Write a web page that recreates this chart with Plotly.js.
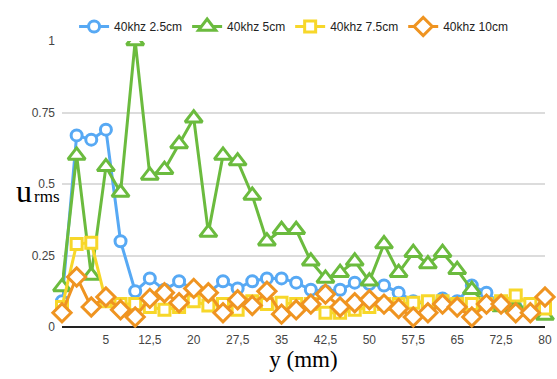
<!DOCTYPE html>
<html>
<head>
<meta charset="utf-8">
<script src="https://cdn.plot.ly/plotly-3.0.1.min.js"></script>
<style>html,body{margin:0;padding:0;background:#fff;}#chart{width:557px;height:379px;}</style>
</head>
<body>
<div id="chart"></div>
<script>
// positions along y (mm)
const yPos = [-2.5, 0, 2.5, 5, 7.5, 10, 12.5, 15, 17.5, 20, 22.5, 25, 27.5, 30, 32.5, 35, 37.5, 40, 42.5, 45, 47.5, 50, 52.5, 55, 57.5, 60, 62.5, 65, 67.5, 70, 72.5, 75, 77.5, 80];
const tickVals = [5, 12.5, 20, 27.5, 35, 42.5, 50, 57.5, 65, 72.5, 80];
const tickText = ["5", "12,5", "20", "27,5", "35", "42,5", "50", "57,5", "65", "72,5", "80"];
const yTickVals = [0, 0.25, 0.5, 0.75, 1];
const yTickText = ["0", "0.25", "0.5", "0.75", "1"];
const seriesNames = ["40khz 2.5cm", "40khz 5cm", "40khz 7.5cm", "40khz 10cm"];

const u25 = [0.09, 0.67, 0.655, 0.69, 0.30, 0.125, 0.17, 0.13, 0.16, 0.13, 0.12, 0.16, 0.135, 0.16, 0.17, 0.17, 0.155, 0.13, 0.125, 0.13, 0.155, 0.15, 0.145, 0.12, 0.09, 0.08, 0.10, 0.09, 0.145, 0.12, 0.08, 0.07, 0.07, 0.06];
const u50 = [0.14, 0.60, 0.18, 0.56, 0.47, 1.0, 0.53, 0.55, 0.64, 0.73, 0.33, 0.60, 0.58, 0.46, 0.30, 0.34, 0.34, 0.23, 0.17, 0.19, 0.23, 0.16, 0.29, 0.19, 0.26, 0.22, 0.26, 0.20, 0.13, 0.08, 0.07, 0.07, 0.06, 0.04];
const u75 = [0.07, 0.29, 0.295, 0.09, 0.08, 0.08, 0.07, 0.06, 0.07, 0.09, 0.075, 0.08, 0.06, 0.09, 0.08, 0.085, 0.08, 0.08, 0.05, 0.05, 0.06, 0.07, 0.08, 0.08, 0.085, 0.09, 0.09, 0.08, 0.08, 0.08, 0.09, 0.11, 0.08, 0.065];
const u100 = [0.05, 0.175, 0.07, 0.105, 0.06, 0.035, 0.10, 0.12, 0.085, 0.135, 0.12, 0.05, 0.095, 0.075, 0.125, 0.045, 0.06, 0.08, 0.115, 0.07, 0.085, 0.095, 0.08, 0.065, 0.035, 0.05, 0.08, 0.07, 0.035, 0.08, 0.08, 0.05, 0.05, 0.105];

const colors = ["#57a9f4", "#6bbb3e", "#f7d72a", "#ef9421"];
const symbols = ["circle", "triangle-up", "square", "diamond"];
const sizes = [11, 15, 11, 14];
const data = [u25, u50, u75, u100];

const traces = data.map((vals, k) => ({
  x: yPos, y: vals, name: seriesNames[k], type: "scatter", mode: "lines+markers",
  line: {color: colors[k], width: 3},
  marker: {symbol: symbols[k], size: sizes[k], color: "#ffffff", line: {width: 3, color: colors[k]}},
  cliponaxis: false
}));

const layout = {
  width: 557, height: 379,
  margin: {l: 62, r: 12, t: 29, b: 52},
  paper_bgcolor: "#fff", plot_bgcolor: "#fff",
  showlegend: true,
  legend: {orientation: "h", x: 0.025, xanchor: "left", y: 1.0, yanchor: "bottom",
    font: {family: "Liberation Sans, Arial", size: 12, color: "#222"}, itemwidth: 30, tracegroupgap: 0},
  xaxis: {range: [-2.5, 80], tickvals: tickVals, ticktext: tickText, showgrid: false, zeroline: false,
    showline: false, ticks: "", ticklabelstandoff: 4, tickfont: {family: "Liberation Sans, Arial", size: 12, color: "#444"},
    title: {text: "y (mm)", font: {family: "Liberation Serif, Times New Roman", size: 23, color: "#000"}, standoff: 4}},
  yaxis: {range: [0, 1], tickvals: yTickVals, ticktext: yTickText,
    showgrid: true, gridcolor: "#dcdcdc", gridwidth: 2, zeroline: true, zerolinecolor: "#222", zerolinewidth: 2,
    ticks: "", ticklabelstandoff: 6, tickfont: {family: "Liberation Sans, Arial", size: 12, color: "#444"}, automargin: false},
  annotations: [
    {text: "u", xref: "paper", yref: "paper", x: (24 - 62) / 483, y: (327 - 185) / 298, xanchor: "center", yanchor: "middle",
     showarrow: false, font: {family: "Liberation Serif, Times New Roman", size: 32, color: "#000"}},
    {text: "rms", xref: "paper", yref: "paper", x: (32 - 62) / 483, y: (327 - 191) / 298, xanchor: "left", yanchor: "middle",
     showarrow: false, font: {family: "Liberation Serif, Times New Roman", size: 17, color: "#000"}}
  ]
};

Plotly.newPlot("chart", traces, layout, {displayModeBar: false, staticPlot: true});
</script>
</body>
</html>
